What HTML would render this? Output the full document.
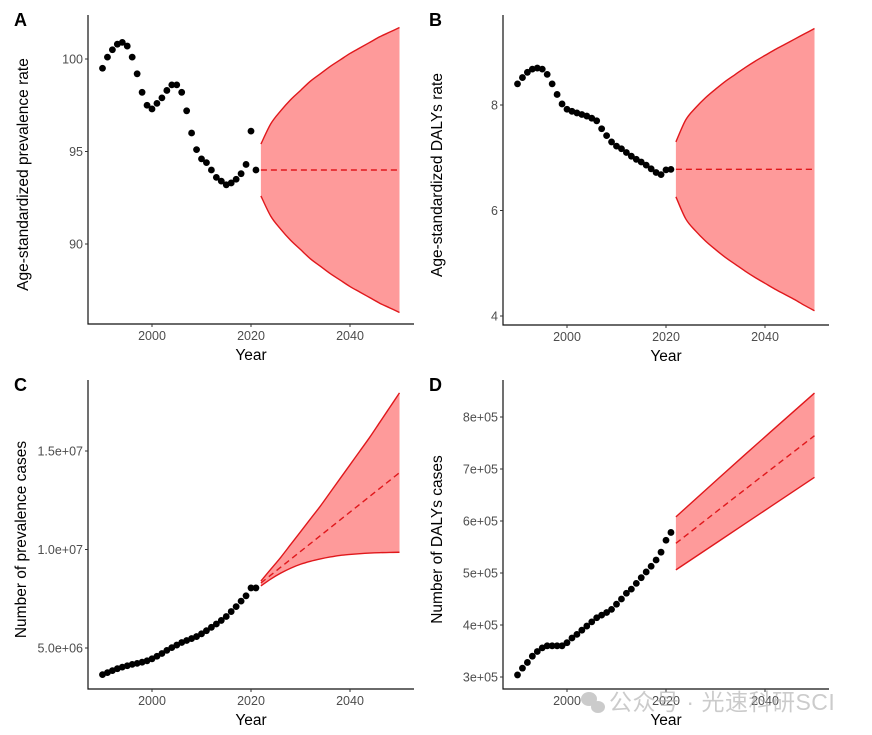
<!DOCTYPE html>
<html><head><meta charset="utf-8"><style>
html,body{margin:0;padding:0;background:#fff;}
svg{display:block;font-family:"Liberation Sans","Noto Sans CJK SC",sans-serif;}
</style></head><body>
<svg id="fig" width="872" height="735" viewBox="0 0 872 735"></svg>
<script>
const years = [];
for (let y = 1990; y <= 2021; y++) years.push(y);
const fYears = [2022,2024,2026,2028,2030,2032,2034,2036,2038,2040,2042,2044,2046,2048,2050];
const fYearsD = [2022,2036,2050];

const aObs = [99.5,100.1,100.5,100.8,100.9,100.7,100.1,99.2,98.2,97.5,97.3,97.6,97.9,98.3,98.6,98.6,98.2,97.2,96.0,95.1,94.6,94.4,94.0,93.6,93.4,93.2,93.3,93.5,93.8,94.3,96.1,94.0];
const aUpper = [95.4,96.5,97.2,97.8,98.3,98.8,99.2,99.6,99.95,100.3,100.6,100.9,101.2,101.45,101.7];
const aMean = [94.0,94.0,94.0,94.0,94.0,94.0,94.0,94.0,94.0,94.0,94.0,94.0,94.0,94.0,94.0];
const aLower = [92.6,91.5,90.8,90.2,89.7,89.2,88.8,88.4,88.05,87.7,87.4,87.1,86.8,86.55,86.3];
const aTicks = [90,95,100];
const aTickLabels = ["90","95","100"];

const bObs = [8.40,8.52,8.62,8.68,8.70,8.68,8.58,8.40,8.20,8.02,7.92,7.88,7.85,7.82,7.79,7.75,7.70,7.55,7.42,7.30,7.22,7.17,7.10,7.03,6.97,6.92,6.86,6.79,6.72,6.68,6.77,6.78];
const bUpper = [7.30,7.72,7.95,8.14,8.30,8.45,8.58,8.71,8.83,8.94,9.05,9.15,9.25,9.35,9.45];
const bMean = [6.78,6.78,6.78,6.78,6.78,6.78,6.78,6.78,6.78,6.78,6.78,6.78,6.78,6.78,6.78];
const bLower = [6.26,5.84,5.61,5.42,5.26,5.11,4.98,4.85,4.73,4.62,4.51,4.41,4.31,4.20,4.10];
const bTicks = [4,6,8];
const bTickLabels = ["4","6","8"];

const cObs = [3.65,3.75,3.85,3.95,4.03,4.10,4.17,4.22,4.28,4.35,4.45,4.58,4.72,4.88,5.02,5.15,5.28,5.38,5.48,5.58,5.72,5.88,6.05,6.22,6.40,6.60,6.85,7.10,7.38,7.65,8.05,8.05];
const cUpper = [8.4,9.0,9.6,10.25,10.9,11.55,12.2,12.9,13.6,14.3,15.0,15.7,16.45,17.2,17.95];
const cMean = [8.3,8.7,9.1,9.5,9.9,10.3,10.7,11.1,11.5,11.9,12.3,12.7,13.1,13.5,13.9];
const cLower = [8.15,8.5,8.8,9.05,9.25,9.4,9.52,9.62,9.7,9.75,9.79,9.82,9.84,9.85,9.86];
const cTicks = [5,10,15];
const cTickLabels = ["5.0e+06","1.0e+07","1.5e+07"];

const dObs = [304,317,328,340,349,356,360,360,360,360,366,375,382,390,398,406,414,419,424,430,440,450,461,469,480,491,502,513,525,540,563,578];
const dUpper = [608,728,846];
const dMean = [557,661,764];
const dLower = [506,595,684];
const dTicks = [300,400,500,600,700,800];
const dTickLabels = ["3e+05","4e+05","5e+05","6e+05","7e+05","8e+05"];

const NS = "http://www.w3.org/2000/svg";
const svg = document.getElementById('fig');
function mk(tag, attrs, parent){
  const e = document.createElementNS(NS, tag);
  for (const k in attrs) e.setAttribute(k, attrs[k]);
  (parent||svg).appendChild(e);
  return e;
}
// Catmull-Rom smooth path through points (continuing an existing path)
function smooth(pts, start){
  let d = (start ? 'M' : 'L') + pts[0][0] + ',' + pts[0][1];
  for (let i = 0; i < pts.length-1; i++){
    const p0 = pts[Math.max(0,i-1)], p1 = pts[i], p2 = pts[i+1], p3 = pts[Math.min(pts.length-1,i+2)];
    const c1x = p1[0] + (p2[0]-p0[0])/6, c1y = p1[1] + (p2[1]-p0[1])/6;
    const c2x = p2[0] - (p3[0]-p1[0])/6, c2y = p2[1] - (p3[1]-p1[1])/6;
    d += `C${c1x},${c1y} ${c2x},${c2y} ${p2[0]},${p2[1]}`;
  }
  return d;
}

function panel(cfg){
  const g = mk('g', {});
  
  
  const xs = v => cfg.x0px + (v - 2000) * (cfg.x20px - cfg.x0px) / 20;
  const ys = v => cfg.yApx + (v - cfg.yA) * (cfg.yBpx - cfg.yApx) / (cfg.yB - cfg.yA);
  const upPts = cfg.fy.map((yr,i)=>[xs(yr), ys(cfg.up[i])]);
  const loPts = cfg.fy.map((yr,i)=>[xs(yr), ys(cfg.lo[i])]);
  const mePts = cfg.fy.map((yr,i)=>[xs(yr), ys(cfg.mean[i])]);
  const d = smooth(upPts, true) + smooth(loPts.slice().reverse(), false) + 'Z';
  const rib = mk('path', {d:d, fill:'#fe9a9a', stroke:'none'}, g);
  
  
  const line = (pts, name, dash) => {
    const p = mk('path', {d:smooth(pts, true), fill:'none', stroke:'#e0181c', 'stroke-width':1.4}, g);
    if (dash) p.setAttribute('stroke-dasharray', '6,4');
    
    
  };
  line(upPts, 'upper-bound-line', false);
  line(loPts, 'lower-bound-line', false);
  line(mePts, 'forecast-mean-line', true);
  cfg.obs.forEach((v,i)=>{
    const c = mk('circle', {cx:xs(years[i]), cy:ys(v), r:3.4, fill:'#000'}, g);
    
    
  });
  const ax = mk('path', {d:`M${cfg.left},${cfg.top}V${cfg.bottom}H${cfg.right}`, fill:'none', stroke:'#111', 'stroke-width':1.2}, g);
  
  
  [2000,2020,2040].forEach(yr=>{
    mk('line', {x1:xs(yr), x2:xs(yr), y1:cfg.bottom, y2:cfg.bottom+3, stroke:'#333'}, g);
    const t = mk('text', {x:xs(yr), y:cfg.bottom+16, 'text-anchor':'middle', 'font-size':12.5, fill:'#4d4d4d'}, g);
    t.textContent = yr;
    
    
  });
  cfg.ticks.forEach((v,i)=>{
    mk('line', {x1:cfg.left-3, x2:cfg.left, y1:ys(v), y2:ys(v), stroke:'#333'}, g);
    const t = mk('text', {x:cfg.left-5, y:ys(v)+4.5, 'text-anchor':'end', 'font-size':12.5, fill:'#4d4d4d'}, g);
    t.textContent = cfg.labels[i];
    
    
  });
  const xt = mk('text', {x:(cfg.left+cfg.right)/2, y:cfg.bottom+36, 'text-anchor':'middle', 'font-size':15.5, fill:'#000'}, g);
  xt.textContent = 'Year';
  
  
  const cy = (cfg.top+cfg.bottom)/2 + 5;
  const yt = mk('text', {x:cfg.ytx, y:cy, 'text-anchor':'middle', 'font-size':15.5, fill:'#000', transform:`rotate(-90 ${cfg.ytx} ${cy})`}, g);
  yt.textContent = cfg.ytitle;
  
  
  const lt = mk('text', {x:cfg.lx, y:cfg.ly, 'font-size':18, 'font-weight':'bold', fill:'#000'}, g);
  lt.textContent = cfg.letter;
  
  
}

panel({letter:'A', lx:14, ly:26, left:88, right:414, top:15, bottom:324, x0px:152, x20px:251,
  yA:100, yApx:59, yB:90, yBpx:244, obs:aObs, fy:fYears, up:aUpper, mean:aMean, lo:aLower,
  ticks:aTicks, labels:aTickLabels, ytitle:'Age-standardized prevalence rate', ytx:28});
panel({letter:'B', lx:429, ly:26, left:503, right:829, top:15, bottom:325, x0px:567, x20px:666,
  yA:8, yApx:105, yB:4, yBpx:316, obs:bObs, fy:fYears, up:bUpper, mean:bMean, lo:bLower,
  ticks:bTicks, labels:bTickLabels, ytitle:'Age-standardized DALYs rate', ytx:442});
panel({letter:'C', lx:14, ly:391, left:88, right:414, top:380, bottom:689, x0px:152, x20px:251,
  yA:15, yApx:451, yB:5, yBpx:648, obs:cObs, fy:fYears, up:cUpper, mean:cMean, lo:cLower,
  ticks:cTicks, labels:cTickLabels, ytitle:'Number of prevalence cases', ytx:26});
panel({letter:'D', lx:429, ly:391, left:503, right:829, top:380, bottom:689, x0px:567, x20px:666,
  yA:800, yApx:417, yB:300, yBpx:677, obs:dObs, fy:fYearsD, up:dUpper, mean:dMean, lo:dLower,
  ticks:dTicks, labels:dTickLabels, ytitle:'Number of DALYs cases', ytx:442});

const wm = mk('g', {opacity:0.6});


mk('ellipse', {cx:589, cy:699, rx:8, ry:7, fill:'#aaa'}, wm);
mk('ellipse', {cx:598, cy:707, rx:7, ry:6, fill:'#aaa'}, wm);
const wt = mk('text', {x:609, y:710, 'font-size':23, fill:'#aaa', 'letter-spacing':'0.5'}, wm);
wt.textContent = '公众号 · 光速科研SCI';
</script>
</body></html>
